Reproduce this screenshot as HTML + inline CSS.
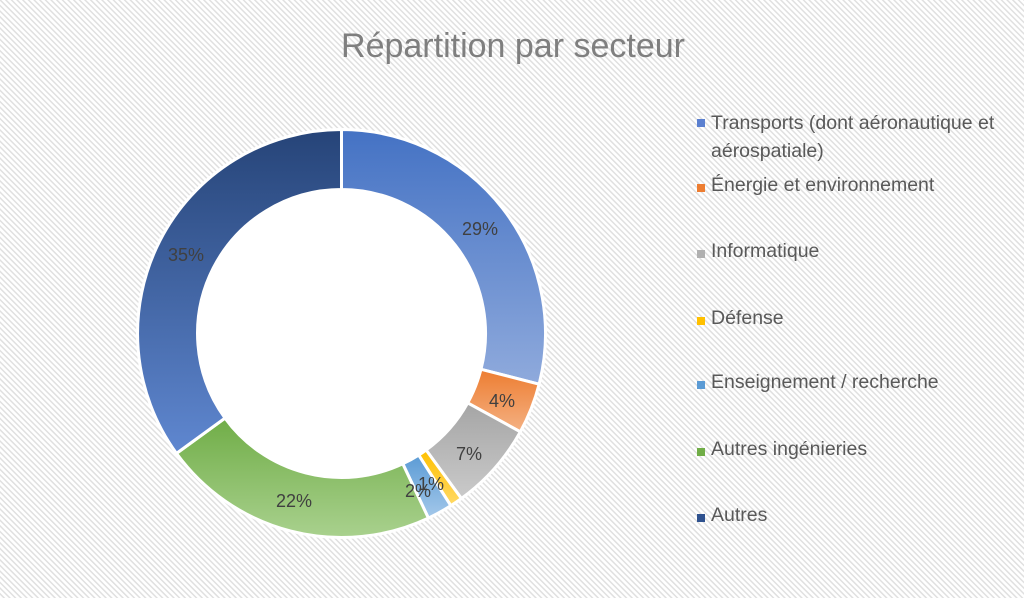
<!DOCTYPE html>
<html><head><meta charset="utf-8"><style>
body{margin:0;}
#c{width:1024px;height:598px;position:relative;overflow:hidden;font-family:"Liberation Sans",sans-serif;
background:repeating-linear-gradient(45deg,#ffffff 0px,#ffffff 2px,#e0e0e0 2.5px,#e0e0e0 3.5px,#ffffff 4px);}
.t{position:absolute;color:#595959;font-size:19.5px;white-space:nowrap;}
.m{position:absolute;width:8px;height:8px;}
</style></head><body><div id="c">
<svg width="1024" height="598" style="position:absolute;left:0;top:0">
<defs>
<linearGradient id="g1" x1="0" y1="0" x2="0" y2="1"><stop offset="0" stop-color="#4472c4"/><stop offset="1" stop-color="#8faadc"/></linearGradient>
<linearGradient id="g2" x1="0" y1="0" x2="0" y2="1"><stop offset="0" stop-color="#ed7d31"/><stop offset="1" stop-color="#f4b183"/></linearGradient>
<linearGradient id="g3" x1="0" y1="0" x2="0" y2="1"><stop offset="0" stop-color="#a5a5a5"/><stop offset="1" stop-color="#cacaca"/></linearGradient>
<linearGradient id="g4" x1="0" y1="0" x2="0" y2="1"><stop offset="0" stop-color="#ffc000"/><stop offset="1" stop-color="#ffd966"/></linearGradient>
<linearGradient id="g5" x1="0" y1="0" x2="0" y2="1"><stop offset="0" stop-color="#5b9bd5"/><stop offset="1" stop-color="#a4c8ea"/></linearGradient>
<linearGradient id="g6" x1="0" y1="0" x2="0" y2="1"><stop offset="0" stop-color="#70ad47"/><stop offset="1" stop-color="#a9d18e"/></linearGradient>
<linearGradient id="g7" x1="0" y1="0" x2="0" y2="1"><stop offset="0" stop-color="#264478"/><stop offset="1" stop-color="#5f87d0"/></linearGradient>
</defs>
<circle cx="341.5" cy="333.5" r="143" fill="#fff"/>
<g stroke="#fff" stroke-width="3" stroke-linejoin="round">
<path fill="url(#g1)" d="M341.5 129.5 A204 204 0 0 1 539.1 384.2 L481 369.3 A144 144 0 0 0 341.5 189.5Z"/>
<path fill="url(#g2)" d="M539.1 384.2 A204 204 0 0 1 520.3 431.8 L467.7 402.9 A144 144 0 0 0 481 369.3Z"/>
<path fill="url(#g3)" d="M520.3 431.8 A204 204 0 0 1 461.4 498.5 L426.1 450 A144 144 0 0 0 467.7 402.9Z"/>
<path fill="url(#g4)" d="M461.4 498.5 A204 204 0 0 1 450.8 505.7 L418.7 455.1 A144 144 0 0 0 426.1 450Z"/>
<path fill="url(#g5)" d="M450.8 505.7 A204 204 0 0 1 428.4 518.1 L402.8 463.8 A144 144 0 0 0 418.7 455.1Z"/>
<path fill="url(#g6)" d="M428.4 518.1 A204 204 0 0 1 176.5 453.4 L225 418.1 A144 144 0 0 0 402.8 463.8Z"/>
<path fill="url(#g7)" d="M176.5 453.4 A204 204 0 0 1 341.5 129.5 L341.5 189.5 A144 144 0 0 0 225 418.1Z"/>
</g>
<g font-family="Liberation Sans,sans-serif" font-size="18" fill="#404040" text-anchor="middle">
<text x="480" y="235">29%</text>
<text x="502" y="407">4%</text>
<text x="469" y="460">7%</text>
<text x="431" y="490">1%</text>
<text x="418" y="497">2%</text>
<text x="294" y="507">22%</text>
<text x="186" y="261">35%</text>
</g>
<text x="513" y="57" text-anchor="middle" font-family="Liberation Sans,sans-serif" font-size="34" fill="#7f7f7f">Répartition par secteur</text>
</svg>
<div class="m" style="left:697px;top:119px;background:#5b80d0"></div><div class="t" style="left:711px;top:109px;line-height:28px">Transports (dont aéronautique et<br>aérospatiale)</div>
<div class="m" style="left:697px;top:184px;background:#ed7d31"></div><div class="t" style="left:711px;top:174px">Énergie et environnement</div>
<div class="m" style="left:697px;top:250px;background:#b0b0b0"></div><div class="t" style="left:711px;top:240px">Informatique</div>
<div class="m" style="left:697px;top:317px;background:#ffc000"></div><div class="t" style="left:711px;top:307px">Défense</div>
<div class="m" style="left:697px;top:381px;background:#5b9bd5"></div><div class="t" style="left:711px;top:371px">Enseignement / recherche</div>
<div class="m" style="left:697px;top:448px;background:#70ad47"></div><div class="t" style="left:711px;top:438px">Autres ingénieries</div>
<div class="m" style="left:697px;top:514px;background:#2f528f"></div><div class="t" style="left:711px;top:504px">Autres</div>
</div></body></html>
